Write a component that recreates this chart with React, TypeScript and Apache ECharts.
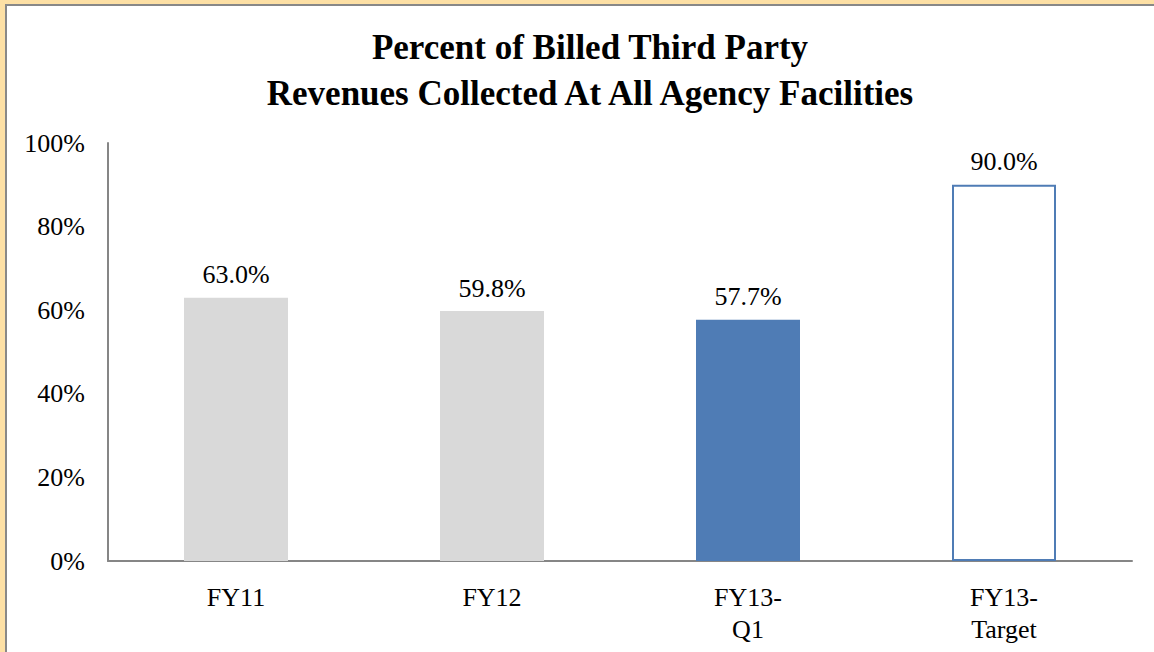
import React, { useEffect, useRef } from "react";
import * as echarts from "echarts";

const categories = ["FY11", "FY12", "FY13-\nQ1", "FY13-\nTarget"];
const values = [63.0, 59.8, 57.7, 90.0];
const yTicks = [0, 20, 40, 60, 80, 100];
const titleText = "Percent of Billed Third Party\nRevenues Collected At All Agency Facilities";

const GRAY = "#D9D9D9";
const BLUE = "#4F7CB5";
const FONT = "Liberation Serif, Times New Roman, serif";

export default function App() {
  const ref = useRef<HTMLDivElement>(null);
  useEffect(() => {
    if (!ref.current) return;
    const chart = echarts.init(ref.current, undefined, { renderer: "svg" });
    const data = values.map((v, i) => {
      if (i < 2) return { value: v, itemStyle: { color: GRAY } };
      if (i === 2) return { value: v, itemStyle: { color: BLUE } };
      return { value: v, itemStyle: { color: "#ffffff", borderColor: BLUE, borderWidth: 2 } };
    });
    chart.setOption({
      animation: false,
      textStyle: { fontFamily: FONT },
      title: {
        text: titleText,
        left: 585,
        textAlign: "center",
        top: 19,
        textStyle: {
          fontFamily: FONT,
          fontSize: 35,
          fontWeight: "bold",
          color: "#000",
          lineHeight: 46,
        },
      },
      grid: { left: 108, right: 22, top: 143, bottom: 91, containLabel: false },
      xAxis: {
        type: "category",
        data: categories,
        axisLine: { show: true, lineStyle: { color: "#868686", width: 2 } },
        axisTick: { show: false },
        axisLabel: {
          fontFamily: FONT,
          fontSize: 26,
          color: "#000",
          lineHeight: 32,
          margin: 20,
        },
      },
      yAxis: {
        type: "value",
        min: yTicks[0],
        max: yTicks[yTicks.length - 1],
        interval: 20,
        axisLine: { show: true, lineStyle: { color: "#868686", width: 2 } },
        axisTick: { show: false },
        splitLine: { show: false },
        axisLabel: {
          fontFamily: FONT,
          fontSize: 26,
          color: "#000",
          margin: 23,
          formatter: (v: number) => `${v}%`,
        },
      },
      series: [
        {
          type: "bar",
          data,
          barWidth: 104,
          label: {
            show: true,
            position: "top",
            distance: 10,
            fontFamily: FONT,
            fontSize: 26,
            color: "#000",
            formatter: (p: any) => `${Number(p.value).toFixed(1)}%`,
          },
        },
      ],
    });
    return () => chart.dispose();
  }, []);

  return (
    <div style={{ position: "fixed", left: 0, top: 0, width: 1154, height: 652, background: "#FDE0A5", overflow: "hidden" }}>
      <div
        style={{
          position: "absolute",
          left: 5,
          top: 4,
          right: 0,
          bottom: 0,
          background: "#ffffff",
          borderLeft: "2px solid #888888",
          borderTop: "2px solid #888888",
        }}
      />
      <div ref={ref} style={{ position: "absolute", left: 0, top: 0, width: 1154, height: 652 }} />
    </div>
  );
}
